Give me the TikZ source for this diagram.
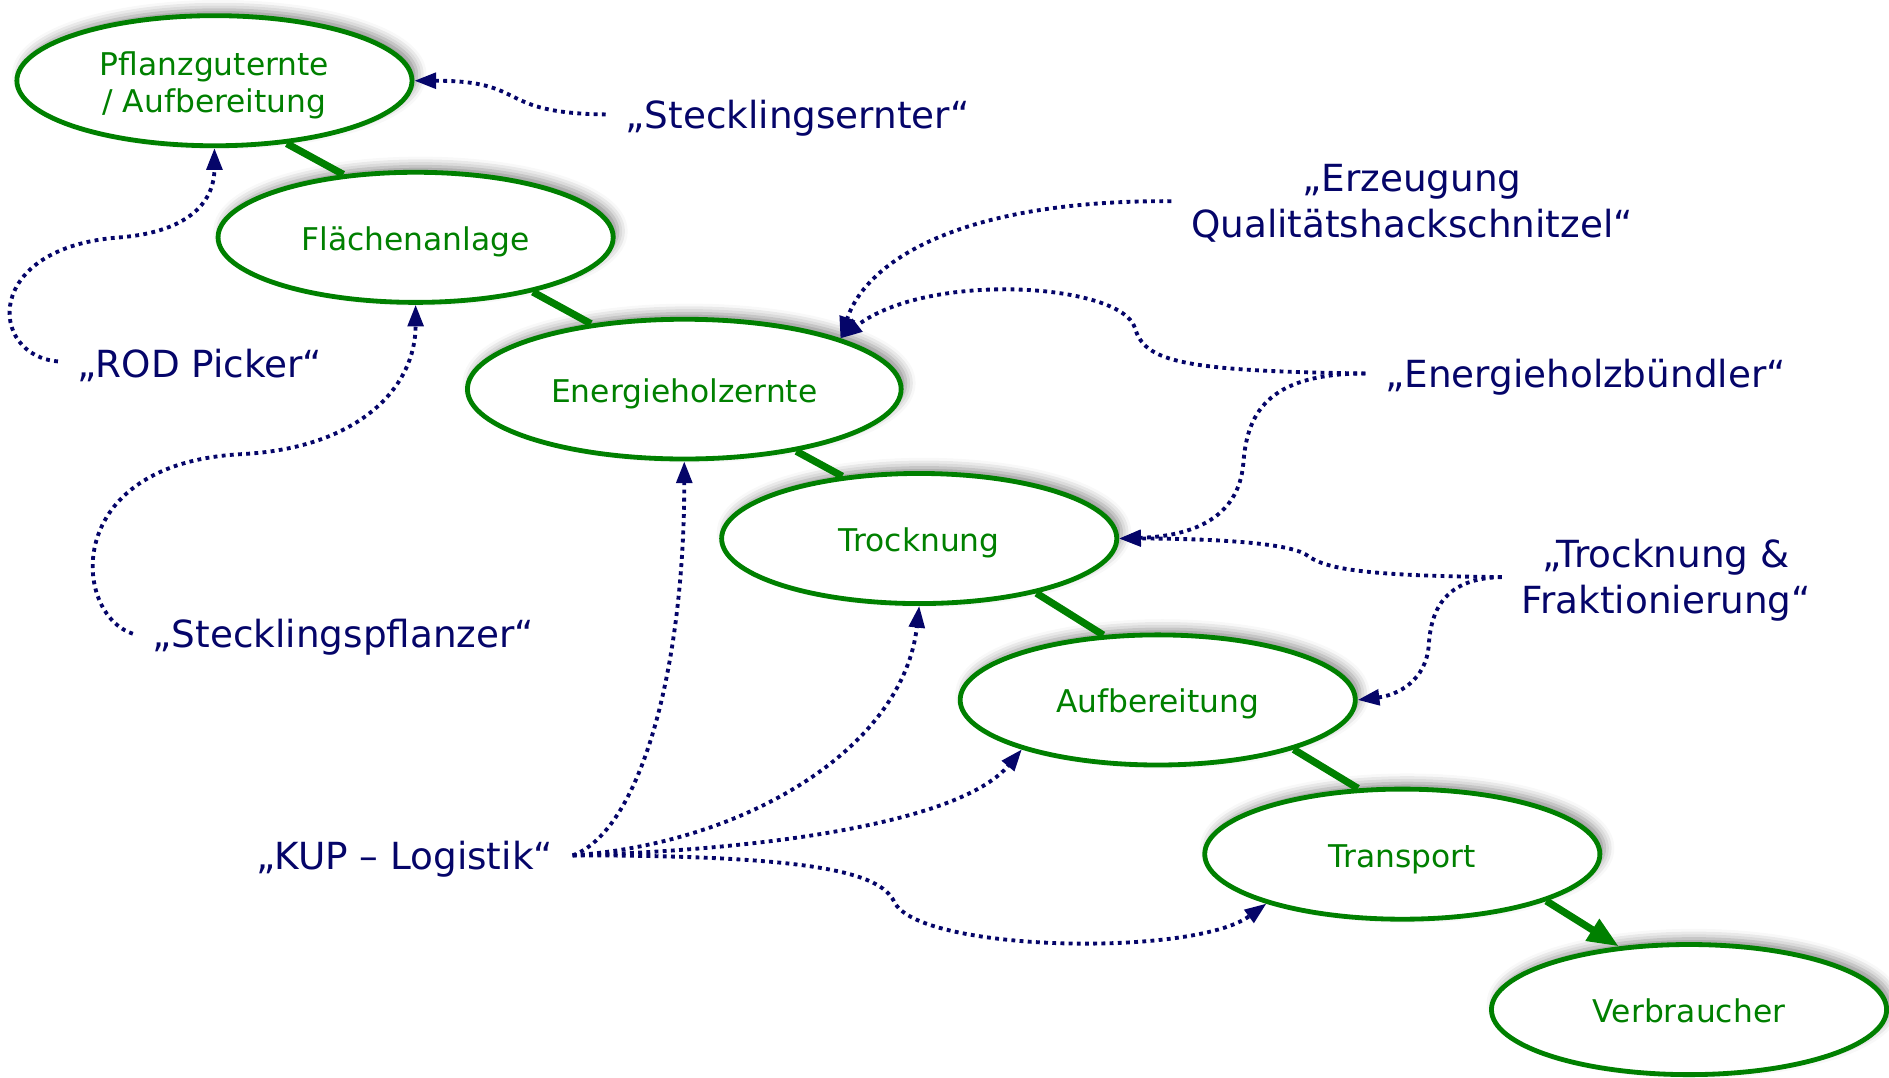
\documentclass[tikz,border=0pt]{standalone}
\usepackage{fontspec}
\setmainfont{DejaVu Sans}
\usetikzlibrary{shapes.geometric,arrows.meta,shadows.blur}
\definecolor{kgreen}{RGB}{0,128,0}
\definecolor{knavy}{RGB}{5,5,105}
\tikzset{
  stage/.style={ellipse, draw=kgreen, line width=2pt, fill=white, text=kgreen,
    minimum width=164pt, minimum height=54pt, inner sep=0pt, align=center,
    font=\fontsize{13}{15.5}\selectfont,
    blur shadow={shadow xshift=2pt, shadow yshift=2.5pt, shadow blur radius=4pt, shadow opacity=45}},
  oneline/.style={stage, text height=13.9pt, text depth=3.1pt},
  lbl/.style={text=knavy, font=\fontsize{15.5}{19}\selectfont, align=center,
    inner xsep=8pt, inner ysep=2pt},
  lblone/.style={lbl, text height=14.8pt},
  dotline/.style={draw=knavy, line width=1.6pt, dash pattern=on 1.6pt off 1.8pt},
  dotarr/.style={dotline, -{Triangle[length=9pt,width=6.5pt]}},
  flow/.style={draw=kgreen, line width=3pt},
}
\begin{document}
\begin{tikzpicture}[x=0.5pt,y=-0.5pt]
\useasboundingbox (0,0) rectangle (1568,894);
% stages
\node[stage, text height=29.4pt] (P) at (178,67) {Pflanzguternte\\/ Aufbereitung};
\node[oneline] (F) at (345,197) {Flächenanlage};
\node[oneline, minimum width=180pt, minimum height=58pt] (E) at (568,323) {Energieholzernte};
\node[oneline] (T) at (763,447) {Trocknung};
\node[oneline] (A) at (961,581) {Aufbereitung};
\node[oneline] (R) at (1164,709) {Transport};
\node[oneline] (V) at (1402,838) {Verbraucher};
% flow
\draw[flow] (P.-41) -- (F.139);
\draw[flow] (F.-25) -- (E.145);
\draw[flow] (E.-29) -- (T.141);
\draw[flow] (T.-25) -- (A.130);
\draw[flow] (A.-20) -- (R.124);
\draw[flow, -{Triangle[length=13pt,width=10pt]}] (R.-18) -- (V.138);
% labels
\node[lblone] (Ls) at (662,95) {„Stecklingsernter“};
\node[lblone] (Lr) at (166,300) {„ROD Picker“};
\node[lblone] (Lp) at (285,526) {„Stecklingspflanzer“};
\node[lbl, text height=32.3pt] (Le) at (1172,167) {„Erzeugung\\Qualitätshackschnitzel“};
\node[lblone] (Lb) at (1316,310) {„Energieholzbündler“};
\node[lbl, text height=33.3pt] (Lt) at (1383,479) {„Trocknung \&\\Fraktionierung“};
\node[lblone] (Lk) at (336,710) {„KUP – Logistik“};
% dotted connectors
\draw[dotarr] (Ls.west) .. controls (410,94) and (440,67) .. (P.east);
\draw[dotarr] (Lr.west) .. controls (-10,295) and (-15,205) .. (100,197) .. controls (160,192) and (178,165) .. (P.south);
\draw[dotarr] (Lp.west) .. controls (60,510) and (50,385) .. (200,377) .. controls (300,372) and (345,320) .. (F.south);
\draw[dotarr] (Le.west) .. controls (800,166) and (720,215) .. (E.18);
\draw[dotarr] (Lb.west) .. controls (980,308) and (950,300) .. (942,272) .. controls (930,235) and (770,225) .. (E.18);
\draw[dotarr] (Lb.west) .. controls (1050,310) and (1035,345) .. (1032,385) .. controls (1028,430) and (990,445) .. (T.east);
\draw[dotarr] (Lt.west) .. controls (1130,478) and (1100,472) .. (1085,461) .. controls (1070,450) and (1000,447) .. (T.east);
\draw[dotarr] (Lt.west) .. controls (1200,480) and (1188,505) .. (1186,535) .. controls (1184,565) and (1160,577) .. (A.east);
\draw[dotarr] (Lk.east) .. controls (530,690) and (568,560) .. (E.south);
\draw[dotarr] (Lk.east) .. controls (620,700) and (750,620) .. (T.south);
\draw[dotarr] (Lk.east) .. controls (650,705) and (800,680) .. (A.200);
\draw[dotarr] (Lk.east) .. controls (680,710) and (730,725) .. (742,748) .. controls (760,790) and (990,795) .. (R.200);
\end{tikzpicture}
\end{document}
